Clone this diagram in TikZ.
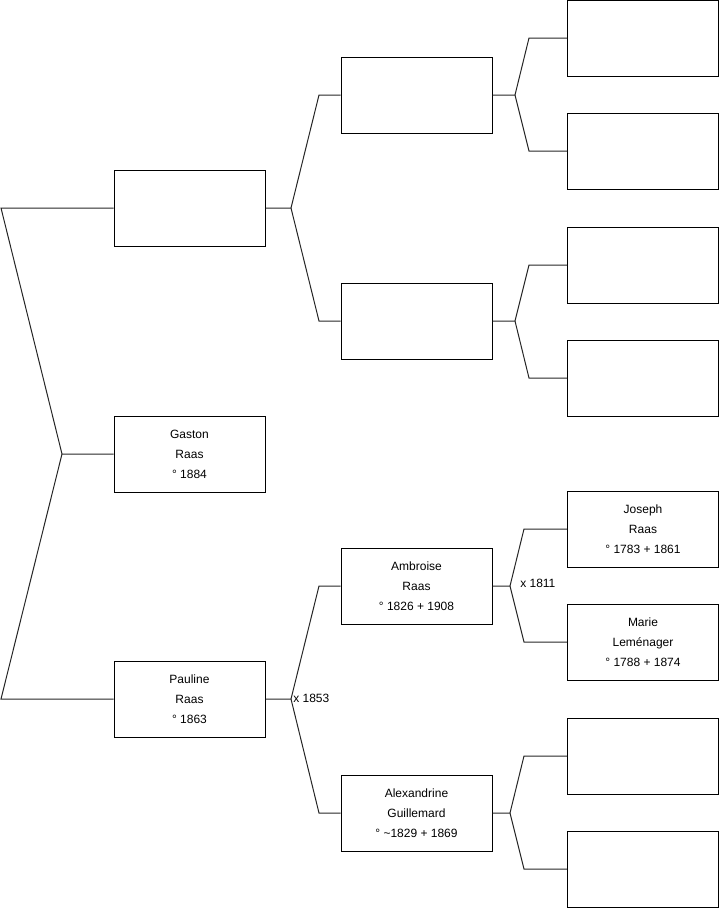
\documentclass[tikz,border=0pt]{standalone}
\usepackage{fontspec}
\setmainfont{Liberation Sans}
\usetikzlibrary{positioning}
\tikzset{
  person/.style={rectangle, draw=black, fill=white, line width=0.75pt,
                 minimum width=113.25pt, minimum height=57pt, align=center,
                 inner sep=0pt, font=\fontsize{9}{15}\selectfont},
  link/.style={line width=0.75pt, draw=black!85},
  wedding/.style={anchor=west, inner sep=0pt, font=\fontsize{9}{11}\selectfont},
}

\begin{document}
\begin{tikzpicture}[x=0.75pt, y=-0.75pt]
  \useasboundingbox (0,0) rectangle (719,908);

  % Generation 1
  \node[person] (gaston) at (189.5,454) {Gaston\\Raas\\° 1884};

  % Generation 2
  \node[person] (father) at (189.5,208) {};
  \node[person] (pauline) at (189.5,699) {Pauline\\Raas\\° 1863};

  % Generation 3
  \node[person] (ff) at (416.5,95) {};
  \node[person] (fm) at (416.5,321) {};
  \node[person] (ambroise) at (416.5,586) {Ambroise\\Raas\\° 1826 + 1908};
  \node[person] (alexandrine) at (416.5,813) {Alexandrine\\Guillemard\\° \textasciitilde1829 + 1869};

  % Generation 4
  \node[person] (fff) at (643,38) {};
  \node[person] (ffm) at (643,151) {};
  \node[person] (fmf) at (643,265) {};
  \node[person] (fmm) at (643,378) {};
  \node[person] (joseph) at (643,529) {Joseph\\Raas\\° 1783 + 1861};
  \node[person] (marie) at (643,642) {Marie\\Leménager\\° 1788 + 1874};
  \node[person] (mmf) at (643,756) {};
  \node[person] (mmm) at (643,869) {};

  % Forks
  \coordinate (f0) at (62,454);
  \coordinate (e0a) at (1,208);
  \coordinate (e0b) at (1,699);
  \coordinate (f1) at (291,208);
  \coordinate (e1a) at (319,95);
  \coordinate (e1b) at (319,321);
  \coordinate (f2) at (291,699);
  \coordinate (e2a) at (319,586);
  \coordinate (e2b) at (319,813);
  \coordinate (f3) at (515,95);
  \coordinate (e3a) at (529,38);
  \coordinate (e3b) at (529,151);
  \coordinate (f4) at (515,321);
  \coordinate (e4a) at (529,265);
  \coordinate (e4b) at (529,378);
  \coordinate (f5) at (510,586);
  \coordinate (e5a) at (524,529);
  \coordinate (e5b) at (524,642);
  \coordinate (f6) at (510,813);
  \coordinate (e6a) at (524,756);
  \coordinate (e6b) at (524,869);

  \draw[link] (gaston.west) -- (f0) -- (e0a) -- (father.west);
  \draw[link] (f0) -- (e0b) -- (pauline.west);

  \draw[link] (father.east) -- (f1) -- (e1a) -- (ff.west);
  \draw[link] (f1) -- (e1b) -- (fm.west);
  \draw[link] (pauline.east) -- (f2) -- (e2a) -- (ambroise.west);
  \draw[link] (f2) -- (e2b) -- (alexandrine.west);

  \draw[link] (ff.east) -- (f3) -- (e3a) -- (fff.west);
  \draw[link] (f3) -- (e3b) -- (ffm.west);
  \draw[link] (fm.east) -- (f4) -- (e4a) -- (fmf.west);
  \draw[link] (f4) -- (e4b) -- (fmm.west);
  \draw[link] (ambroise.east) -- (f5) -- (e5a) -- (joseph.west);
  \draw[link] (f5) -- (e5b) -- (marie.west);
  \draw[link] (alexandrine.east) -- (f6) -- (e6a) -- (mmf.west);
  \draw[link] (f6) -- (e6b) -- (mmm.west);

  % Marriage labels
  \node[wedding] (m1853) at (293,698) {x 1853};
  \node[wedding] (m1811) at (520,583) {x 1811};

\end{tikzpicture}
\end{document}
